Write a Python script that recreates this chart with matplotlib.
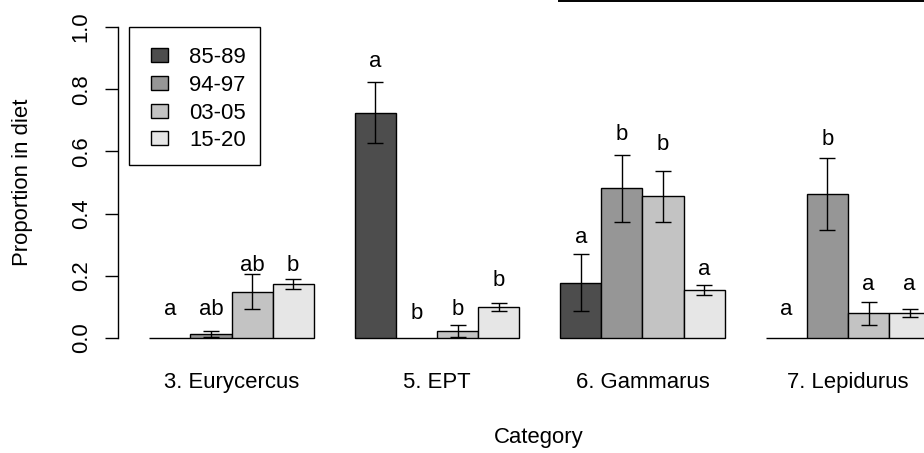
import numpy as np
import matplotlib
matplotlib.use("Agg")
import matplotlib.pyplot as plt
from matplotlib.patches import Rectangle
from matplotlib.transforms import offset_copy

plt.rcParams['font.family'] = ['Liberation Sans', 'DejaVu Sans']

# ---------------- data ----------------
categories = ["3. Eurycercus", "5. EPT", "6. Gammarus", "7. Lepidurus"]
periods = ["85-89", "94-97", "03-05", "15-20"]
colors = ["#4D4D4D", "#969696", "#C3C3C3", "#E6E6E6"]

# mean proportion per category (rows) and period (columns)
mean_eurycercus = [0.000, 0.013, 0.149, 0.175]
mean_ept        = [0.725, 0.001, 0.022, 0.099]
mean_gammarus   = [0.178, 0.481, 0.456, 0.153]
mean_lepidurus  = [0.000, 0.463, 0.079, 0.080]

se_eurycercus = [0.000, 0.010, 0.057, 0.016]
se_ept        = [0.098, 0.000, 0.020, 0.012]
se_gammarus   = [0.092, 0.107, 0.082, 0.016]
se_lepidurus  = [0.000, 0.115, 0.037, 0.012]

letters_eurycercus = ["a", "ab", "ab", "b"]
letters_ept        = ["a", "b", "b", "b"]
letters_gammarus   = ["a", "b", "b", "a"]
letters_lepidurus  = ["a", "b", "a", "a"]

# height (data units) at which the significance letters are centred
lety_eurycercus = [0.100, 0.100, 0.242, 0.242]
lety_ept        = [0.898, 0.088, 0.100, 0.192]
lety_gammarus   = [0.330, 0.662, 0.630, 0.228]
lety_lepidurus  = [0.100, 0.646, 0.180, 0.180]

yticks = [0.0, 0.2, 0.4, 0.6, 0.8, 1.0]
ytick_labels = ["0.0", "0.2", "0.4", "0.6", "0.8", "1.0"]

means = np.array([mean_eurycercus, mean_ept, mean_gammarus, mean_lepidurus])
ses = np.array([se_eurycercus, se_ept, se_gammarus, se_lepidurus])
letters = [letters_eurycercus, letters_ept, letters_gammarus, letters_lepidurus]
lety = np.array([lety_eurycercus, lety_ept, lety_gammarus, lety_lepidurus])

# ---------------- figure ----------------
W, H = 924, 453
fig = plt.figure(figsize=(W / 100, H / 100), dpi=100)

# plot region in pixels (R-like layout, region extends past right edge)
x0_px, x1_px = 118.1, 961.4
y_top_px, y_bot_px = 14.56, 350.44
ax = fig.add_axes([x0_px / W, 1 - y_bot_px / H,
                   (x1_px - x0_px) / W, (y_bot_px - y_top_px) / H])

FS = 15.9
LW = 1.0
ncat, nper = means.shape

# R barplot(beside=TRUE) positions: bar width 1, space before group 1
lefts = np.array([[1 + g * (nper + 1) + j for j in range(nper)] for g in range(ncat)], float)
centers = lefts + 0.5

for j in range(nper):
    ax.bar(lefts[:, j], means[:, j], width=1.0, align='edge',
           color=colors[j], edgecolor='black', linewidth=LW, zorder=2)

mask = ses > 0
ax.errorbar(centers[mask], means[mask], yerr=ses[mask], fmt='none',
            ecolor='black', elinewidth=LW, capsize=6.1, capthick=LW, zorder=3)

letter_tr = offset_copy(ax.transData, fig=fig, x=0, y=-7.9, units='dots')
for g in range(ncat):
    for j in range(nper):
        ax.text(centers[g, j], lety[g, j], letters[g][j], transform=letter_tr,
                ha='center', va='baseline', fontsize=FS, zorder=4)

ax.set_xlim(0.24, 20.76)
ax.set_ylim(-0.04, 1.04)

for s in ['top', 'right', 'bottom']:
    ax.spines[s].set_visible(False)
ax.spines['left'].set_bounds(0, 1)
ax.spines['left'].set_linewidth(LW)

ax.set_yticks(yticks)
ax.set_yticklabels(ytick_labels, fontsize=FS, rotation=90, va='center', ha='right')
ax.tick_params(axis='y', length=9.4, width=LW, pad=9.5)

group_centers = centers.mean(axis=1)
ax.set_xticks(group_centers)
ax.set_xticklabels(categories, fontsize=FS)
ax.tick_params(axis='x', length=0, pad=15.5)

fig.text(23 / W, 1 - 182.5 / H, "Proportion in diet", rotation=90,
         ha='center', va='center', fontsize=FS)
fig.text(539 / W, 1 - 443.3 / H, "Category", ha='center', va='baseline', fontsize=FS)

# ---------------- overlay (legend, top line) ----------------
ov = fig.add_axes([0, 0, 1, 1], zorder=10)
ov.set_xlim(0, W)
ov.set_ylim(H, 0)
ov.axis('off')
ov.patch.set_alpha(0)

ov.add_patch(Rectangle((129.3, 27.3), 130.7, 137.7, facecolor='white',
                       edgecolor='black', linewidth=LW))
row0, drow = 55.0, 27.8
for j, (lab, col) in enumerate(zip(periods, colors)):
    yc = row0 + j * drow
    ov.add_patch(Rectangle((151.0, yc - 7.0), 17.0, 14.0, facecolor=col,
                           edgecolor='black', linewidth=LW))
    ov.text(189.3, yc + 8.0, lab, ha='left', va='baseline', fontsize=FS)

ov.plot([559, 924], [1.0, 1.0], color='black', linewidth=1.4)

fig.savefig("out.png", dpi=100)
